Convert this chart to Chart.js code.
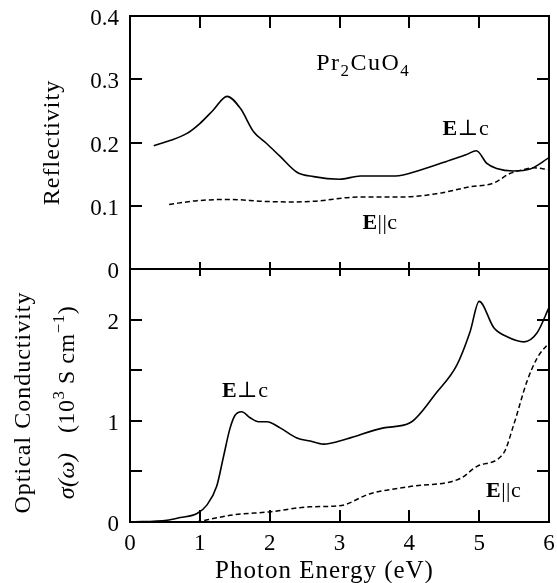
<!DOCTYPE html>
<html>
<head>
<meta charset="utf-8">
<script src="https://cdn.jsdelivr.net/npm/chart.js@4.4.0/dist/chart.umd.min.js"></script>
<style>
html, body { margin: 0; padding: 0; background: #fff; }
#wrap { position: relative; width: 557px; height: 583px; }
canvas { position: absolute; left: 0; }
#reflCanvas { top: 0; }
#condCanvas { top: 250px; }
</style>
</head>
<body>
<div id="wrap">
  <canvas id="reflCanvas" width="557" height="290"></canvas>
  <canvas id="condCanvas" width="557" height="333"></canvas>
</div>
<script>
"use strict";

// Reflectivity, E perpendicular to c
const reflPerpEnergy = [0.34, 0.57, 0.81, 1.0, 1.19, 1.39, 1.58, 1.77, 1.96, 2.15, 2.39, 2.63, 3.0, 3.3, 3.8, 4.15, 4.58, 4.82, 4.96, 5.11, 5.25, 5.49, 5.73, 6.0];
const reflPerp = [0.195, 0.203, 0.214, 0.230, 0.251, 0.273, 0.254, 0.217, 0.198, 0.178, 0.153, 0.146, 0.142, 0.147, 0.147, 0.156, 0.172, 0.181, 0.187, 0.167, 0.159, 0.155, 0.158, 0.176];
// Reflectivity, E parallel to c
const reflParEnergy = [0.56, 0.96, 1.43, 1.91, 2.28, 2.63, 3.3, 3.92, 4.39, 4.87, 5.21, 5.44, 5.6, 5.78, 6.0];
const reflPar = [0.102, 0.108, 0.110, 0.107, 0.106, 0.107, 0.114, 0.114, 0.119, 0.130, 0.136, 0.151, 0.156, 0.160, 0.157];

// Optical conductivity (10^3 S/cm), E perpendicular to c
const condPerpEnergy = [0, 0.53, 0.72, 0.96, 1.10, 1.24, 1.34, 1.43, 1.50, 1.60, 1.72, 1.84, 1.96, 2.15, 2.39, 2.58, 2.77, 3.1, 3.63, 4.01, 4.39, 4.68, 4.87, 5.0, 5.21, 5.4, 5.64, 5.83, 6.0];
const condPerp = [0, 0.017, 0.044, 0.084, 0.167, 0.35, 0.65, 0.92, 1.05, 1.09, 1.03, 0.99, 0.99, 0.93, 0.83, 0.80, 0.77, 0.82, 0.93, 0.98, 1.28, 1.55, 1.88, 2.18, 1.92, 1.83, 1.78, 1.87, 2.12];
// Optical conductivity, E parallel to c
const condParEnergy = [0.95, 1.48, 2.0, 2.58, 3.0, 3.44, 4.01, 4.73, 4.97, 5.35, 5.49, 5.68, 5.83, 6.0];
const condPar = [0, 0.07, 0.10, 0.15, 0.16, 0.28, 0.35, 0.43, 0.55, 0.68, 0.95, 1.38, 1.62, 1.77];

const energyTicks = [0, 1, 2, 3, 4, 5, 6];

const SERIF = '"Liberation Serif", "DejaVu Serif", serif';
const toPoints = (xs, ys) => xs.map((x, i) => ({ x: x, y: ys[i] }));

// draw a little run of mixed-style text centred on (cx, cy)
function drawRich(ctx, parts, cx, cy, size, spacing) {
    const fontOf = s => (s === 'b' ? 'bold ' : s === 'i' ? 'italic ' : '') +
        Math.round((s === 'sub' || s === 'sup') ? size * 0.7 : size) + 'px ' + SERIF;
    ctx.letterSpacing = (spacing || 0) + 'px';
    let w = 0;
    parts.forEach(([t, s]) => { ctx.font = fontOf(s); w += ctx.measureText(t).width; });
    let x = cx - w / 2;
    const base = cy + size * 0.33;
    ctx.textAlign = 'left';
    ctx.textBaseline = 'alphabetic';
    parts.forEach(([t, s]) => {
        ctx.font = fontOf(s);
        const dy = s === 'sub' ? size * 0.25 : s === 'sup' ? -size * 0.42 : 0;
        ctx.fillText(t, x, base + dy);
        x += ctx.measureText(t).width;
    });
    ctx.letterSpacing = '0px';
}

// frame, inward ticks, titles and in-plot labels
const framePlugin = {
    id: 'frame',
    afterDraw(chart, args, opts) {
        const { ctx, scales } = chart;
        const xs = scales.x, ys = scales.y;
        const L = Math.round(xs.left), R = Math.round(xs.right);
        const T = Math.round(ys.top), B = Math.round(ys.bottom);
        const tk = opts.tickLen;
        ctx.save();
        ctx.fillStyle = '#000';
        // frame, 2px bars on whole pixels
        ctx.fillRect(L - 1, T - 1, R - L + 2, 2);
        ctx.fillRect(L - 1, B - 1, R - L + 2, 2);
        ctx.fillRect(L - 1, T - 1, 2, B - T + 2);
        ctx.fillRect(R - 1, T - 1, 2, B - T + 2);

        energyTicks.forEach(v => {
            if (v <= xs.min || v >= xs.max) return;
            const px = Math.round(xs.getPixelForValue(v));
            ctx.fillRect(px - 1, T - tk[0], 2, tk[0] + tk[1]);
            ctx.fillRect(px - 1, B - tk[3], 2, tk[2] + tk[3]);
        });
        ys.ticks.forEach(t => {
            if (t.value <= ys.min + 1e-9 || t.value >= ys.max - 1e-9) return;
            const py = Math.round(ys.getPixelForValue(t.value));
            ctx.fillRect(L, py - 1, 12, 2);
            ctx.fillRect(R - 12, py - 1, 12, 2);
        });

        (opts.labels || []).forEach(l => {
            drawRich(ctx, l.parts, xs.getPixelForValue(l.x), ys.getPixelForValue(l.y), l.size, l.spacing);
        });
        (opts.yTitle || []).forEach(line => {
            ctx.save();
            ctx.translate(line.x, (T + B) / 2 + line.shift);
            ctx.rotate(-Math.PI / 2);
            drawRich(ctx, line.parts, 0, 0, line.size, line.spacing);
            ctx.restore();
        });
        if (opts.xTitle) {
            const t = opts.xTitle;
            drawRich(ctx, t.parts, (L + R) / 2 + t.shift, B + t.dy, t.size, t.spacing);
        }
        ctx.restore();
    }
};

const tickFont = { family: SERIF, size: 23 };
const noPad = s => { s.paddingTop = 0; s.paddingBottom = 0; s.paddingLeft = 0; s.paddingRight = 0; };

// top panel: reflectivity
new Chart(document.getElementById('reflCanvas'), {
    type: 'line',
    data: {
        datasets: [
            { data: toPoints(reflPerpEnergy, reflPerp), borderColor: '#000', borderWidth: 1.6 },
            { data: toPoints(reflParEnergy, reflPar), borderColor: '#000', borderWidth: 1.5, borderDash: [5, 3] }
        ]
    },
    options: {
        responsive: false,
        animation: false,
        layout: { padding: { left: 0, right: 8, top: 16, bottom: 21 } },
        elements: { point: { radius: 0 }, line: { cubicInterpolationMode: 'monotone', fill: false } },
        plugins: {
            legend: { display: false },
            tooltip: { enabled: false },
            frame: {
                tickLen: [0, 12, 7, 7],
                labels: [
                    { x: 3.34, y: 0.327, size: 24, spacing: 1.5, parts: [['Pr', ''], ['2', 'sub'], ['CuO', ''], ['4', 'sub']] },
                    { x: 4.81, y: 0.224, size: 22, spacing: 0.5, parts: [['E', 'b'], ['\u22A5c', '']] },
                    { x: 3.58, y: 0.075, size: 22, spacing: 0.5, parts: [['E', 'b'], ['||c', '']] }
                ],
                yTitle: [
                    { x: 51, shift: 0, size: 24, spacing: 1, parts: [['Reflectivity', '']] }
                ]
            }
        },
        scales: {
            x: {
                type: 'linear', min: 0, max: 6,
                ticks: { display: false },
                grid: { display: false },
                border: { display: false },
                afterFit: s => { s.height = 0; noPad(s); }
            },
            y: {
                min: 0, max: 0.4,
                ticks: {
                    stepSize: 0.1, font: tickFont, color: '#000', padding: 11, labelOffset: 3,
                    callback: v => (Math.abs(v) < 1e-9 ? '0' : v.toFixed(1))
                },
                grid: { display: false, drawTicks: false },
                border: { display: false },
                afterFit: s => { s.width = 130; noPad(s); }
            }
        }
    },
    plugins: [framePlugin]
});

// bottom panel: optical conductivity
new Chart(document.getElementById('condCanvas'), {
    type: 'line',
    data: {
        datasets: [
            { data: toPoints(condPerpEnergy, condPerp), borderColor: '#000', borderWidth: 1.6 },
            { data: toPoints(condParEnergy, condPar), borderColor: '#000', borderWidth: 1.5, borderDash: [5, 3] }
        ]
    },
    options: {
        responsive: false,
        animation: false,
        layout: { padding: { left: 0, right: 8, top: 19, bottom: 0 } },
        elements: { point: { radius: 0 }, line: { cubicInterpolationMode: 'monotone', fill: false } },
        plugins: {
            legend: { display: false },
            tooltip: { enabled: false },
            frame: {
                tickLen: [7, 7, 0, 12],
                labels: [
                    { x: 1.65, y: 1.31, size: 22, spacing: 0.5, parts: [['E', 'b'], ['\u22A5c', '']] },
                    { x: 5.35, y: 0.32, size: 22, spacing: 0.5, parts: [['E', 'b'], ['||c', '']] }
                ],
                yTitle: [
                    { x: 22, shift: 7, size: 24, spacing: 1, parts: [['Optical Conductivity', '']] },
                    { x: 66, shift: 7, size: 24, spacing: 0.5, parts: [['\u03C3(\u03C9)', 'i'], ['   (10', ''], ['3', 'sup'], [' S cm', ''], ['\u22121', 'sup'], [')', '']] }
                ],
                xTitle: { shift: -15, dy: 48, size: 25, spacing: 1, parts: [['Photon Energy (eV)', '']] }
            }
        },
        scales: {
            x: {
                type: 'linear', min: 0, max: 6,
                afterBuildTicks: s => { s.ticks = energyTicks.map(v => ({ value: v })); },
                ticks: { font: tickFont, color: '#000', padding: 8, maxRotation: 0 },
                grid: { display: false, drawTicks: false },
                border: { display: false },
                afterFit: s => { s.height = 61; noPad(s); }
            },
            y: {
                min: 0, max: 2.5,
                ticks: {
                    stepSize: 0.5, font: tickFont, color: '#000', padding: 11, labelOffset: 3,
                    callback: v => (Number.isInteger(v) ? String(v) : '')
                },
                grid: { display: false, drawTicks: false },
                border: { display: false },
                afterFit: s => { s.width = 130; noPad(s); }
            }
        }
    },
    plugins: [framePlugin]
});
</script>
</body>
</html>
